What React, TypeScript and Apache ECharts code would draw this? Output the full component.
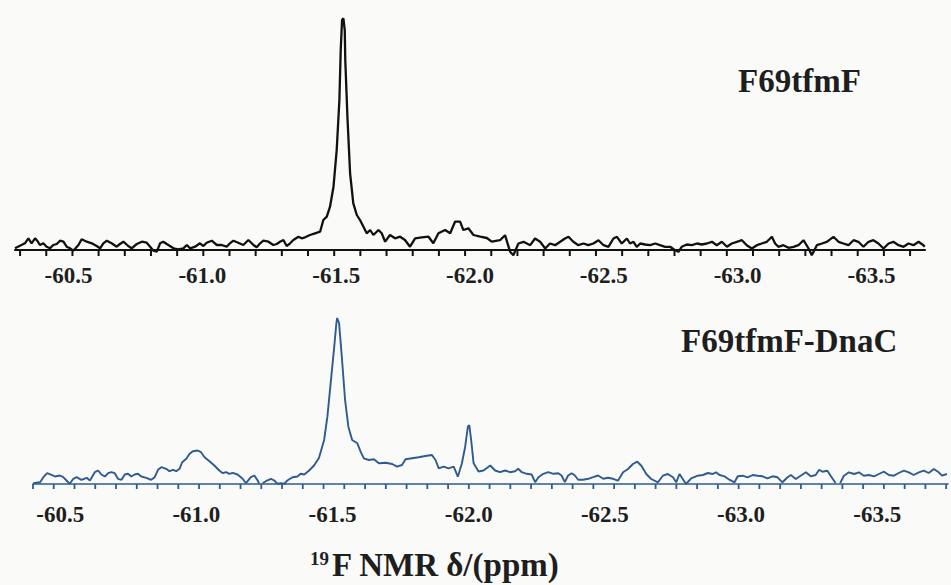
import React, { useEffect, useRef } from "react";
import * as echarts from "echarts";

// Tick labels (ppm) shown under both spectra
const tickLabels = [-60.5, -61.0, -61.5, -62.0, -62.5, -63.0, -63.5];

// Minor tick marks along each baseline (start ppm, spacing ppm, count)
const topTickStart = -60.319;
const topTickStep = 0.0978;
const topTickCount = 35;
const bottomTickStart = -60.4;
const bottomTickStep = 0.07621;
const bottomTickCount = 45;

// Top spectrum: F69tfmF (chemical shift ppm, intensity a.u.)
const ppmTop = [
  -60.300, -60.337, -60.350, -60.362, -60.375, -60.383, -60.393, -60.406, -60.418, -60.431,
  -60.443, -60.456, -60.468, -60.481, -60.493, -60.506, -60.518, -60.537, -60.549, -60.568,
  -60.587, -60.605, -60.618, -60.630, -60.643, -60.661, -60.680, -60.692, -60.705, -60.723,
  -60.736, -60.755, -60.774, -60.792, -60.805, -60.817, -60.830, -60.842, -60.854, -60.867,
  -60.879, -60.892, -60.910, -60.929, -60.942, -60.954, -60.973, -60.991, -61.004, -61.016,
  -61.035, -61.054, -61.072, -61.091, -61.103, -61.116, -61.134, -61.153, -61.172, -61.191,
  -61.203, -61.216, -61.228, -61.247, -61.265, -61.278, -61.290, -61.303, -61.315, -61.328,
  -61.340, -61.359, -61.371, -61.384, -61.402, -61.421, -61.440, -61.452, -61.465, -61.477,
  -61.490, -61.502, -61.512, -61.517, -61.522, -61.527, -61.532, -61.534, -61.542, -61.552,
  -61.564, -61.577, -61.589, -61.602, -61.614, -61.627, -61.639, -61.658, -61.670, -61.683,
  -61.701, -61.720, -61.739, -61.757, -61.776, -61.795, -61.820, -61.845, -61.863, -61.882,
  -61.907, -61.926, -61.944, -61.963, -61.975, -61.994, -62.013, -62.038, -62.063, -62.081,
  -62.112, -62.131, -62.150, -62.162, -62.181, -62.200, -62.225, -62.243, -62.262, -62.281,
  -62.299, -62.318, -62.337, -62.355, -62.368, -62.386, -62.405, -62.424, -62.442, -62.461,
  -62.480, -62.499, -62.517, -62.536, -62.549, -62.567, -62.586, -62.598, -62.611, -62.623,
  -62.636, -62.654, -62.673, -62.692, -62.710, -62.729, -62.748, -62.766, -62.779, -62.791,
  -62.810, -62.829, -62.848, -62.866, -62.885, -62.904, -62.922, -62.941, -62.960, -62.978,
  -62.997, -63.016, -63.034, -63.053, -63.072, -63.090, -63.109, -63.128, -63.140, -63.152,
  -63.171, -63.190, -63.209, -63.227, -63.246, -63.265, -63.277, -63.296, -63.315, -63.333,
  -63.358, -63.377, -63.395, -63.414, -63.433, -63.451, -63.470, -63.489, -63.507, -63.526,
  -63.545, -63.564, -63.582, -63.601, -63.620, -63.638, -63.657, -63.676, -63.694, -63.699,
];
const intTop = [
  1.7, 6.7, 11.7, 6.7, 11.7, 9.3, 5, 6.7, 3.3, 1.7,
  5, 6, 9.3, 8.3, 3.3, 1.7, -0.7, 5, 10.7, 8.3,
  6.7, 4, 1.7, 6.7, 9.3, 6.7, 3.3, 6, 8.3, 4,
  1.7, 6, 8.3, 7.3, 3.3, -0.7, -1.7, 6.7, 8.3, 6,
  4, 1.7, 0.7, 1.7, 5, 1.7, 3.3, 6.7, 4, 7.3,
  9.3, 5, 5, 3.3, 6.7, 9.3, 7.3, 5, 10, 5,
  2.7, 6.7, 9.3, 8.3, 5, 6, 8.3, 10, 4, 6.7,
  10, 13.3, 11.7, 12.7, 15, 16.7, 18.3, 30, 33.3, 43.3,
  63.3, 100, 150, 200, 230, 231.7, 220, 190, 133.3, 76.7,
  46.7, 35, 30, 23.3, 16.7, 20, 15, 20, 16.7, 8.3,
  15, 11.7, 13.3, 10, 3.3, 11.7, 12.7, 13.3, 6.7, 16.7,
  20, 16.7, 28.3, 28.3, 20, 21.7, 15, 13.3, 12, 8.3,
  9.8, 14.8, -1.8, -5.2, 6.5, 8.2, 4.8, 11.5, 8.2, 1.5,
  6.5, 4.8, 8.2, 11.5, 13.2, 8.2, 4.8, 6.5, 4.8, 6.5,
  9.8, 4.8, 3.2, 11.5, 13.2, 6.5, 11.5, 6.5, 8.2, 3.2,
  6.5, 5.5, 4.8, 6.5, 4.8, 3.2, 3.2, -0.2, -1.8, 3.2,
  5.5, 4.8, 6.5, 5.5, 6.5, 8.2, 4.8, 8.2, 3.2, 6.5,
  8.2, 9.8, 4.8, 1.5, 4.8, 6.5, 8.2, 13.2, 6.5, 3.2,
  4.8, 2.2, 3.2, 4.8, 9.8, 1.5, -5.2, 4.8, 6.5, 8.2,
  13.2, 8.2, 6.5, 4.8, 9.8, 8.2, 3.2, 8.2, 9.8, 6.5,
  1.5, 6.5, 8.2, 4.8, 3.2, 6.5, 4.8, 8.2, 4.8, 3.2,
];

// Bottom spectrum: F69tfmF-DnaC (null = gap in the trace)
const ppmBottom = [
  -60.401, -60.426, -60.438, -60.452, -60.468, -60.481, -60.499, -60.511, -60.523, -60.535,
  -60.548, -60.560, -60.578, -60.597, -60.609, -60.627, -60.639, -60.651, -60.664, -60.676,
  -60.688, -60.700, -60.712, -60.725, -60.737, -60.749, -60.761, -60.773, -60.785, -60.798,
  -60.816, -60.834, -60.847, -60.859, -60.871, -60.889, -60.901, -60.914, -60.926, -60.938,
  -60.948, -60.963, -60.975, -60.987, -61.005, -61.017, -61.030, -61.048, -61.066, -61.084,
  -61.097, -61.109, -61.121, -61.133, -61.151, -61.170, -61.182, -61.200, -61.213, -61.225,
  -61.231, -61.236, -61.243, -61.255, -61.274, -61.286, -61.298, -61.310, -61.322, -61.334,
  -61.353, -61.371, -61.383, -61.396, -61.414, -61.432, -61.450, -61.469, -61.481, -61.493,
  -61.505, -61.514, -61.517, -61.524, -61.534, -61.546, -61.558, -61.572, -61.591, -61.603,
  -61.615, -61.633, -61.652, -61.670, -61.695, -61.719, -61.737, -61.755, -61.768, -61.792,
  -61.816, -61.841, -61.865, -61.878, -61.890, -61.908, -61.926, -61.945, -61.960, -61.975,
  -61.987, -61.997, -62.002, -62.009, -62.018, -62.036, -62.054, -62.079, -62.097, -62.115,
  -62.134, -62.152, -62.170, -62.182, -62.195, -62.213, -62.231, -62.244, -62.256, -62.274,
  -62.292, -62.311, -62.329, -62.341, -62.353, -62.365, -62.378, -62.390, -62.402, -62.420,
  -62.439, -62.457, -62.475, -62.494, -62.512, -62.530, -62.548, -62.567, -62.585, -62.603,
  -62.619, -62.634, -62.652, -62.670, -62.695, -62.713, -62.731, -62.750, -62.762, -62.774,
  -62.786, -62.798, -62.817, -62.841, -62.860, -62.878, -62.896, -62.908, -62.921, -62.939,
  -62.957, -62.976, -62.988, -63.006, -63.024, -63.043, -63.061, -63.079, -63.097, -63.116,
  -63.134, -63.152, -63.171, -63.183, -63.201, -63.219, -63.238, -63.256, -63.274, -63.287,
  -63.299, -63.317, -63.329, -63.347, -63.355, -63.364, -63.378, -63.396, -63.415, -63.433,
  -63.451, -63.470, -63.488, -63.506, -63.525, -63.543, -63.561, -63.579, -63.598, -63.616,
  -63.634, -63.653, -63.671, -63.689, -63.708, -63.726, -63.738, -63.756,
];
const intBottom = [
  0.8, 1.8, 6.8, 10.8, 9.2, 7.5, 8.5, 6.8, 3.5, 0.2,
  5.2, 6.8, 4.2, 6.2, 3.5, 11.8, 13.5, 9.5, 7.5, 10.8,
  11.8, 10.8, 5.2, 4.2, 9.5, 10.2, 7.5, 9.5, 10.2, 7.5,
  6.2, 4.2, 6.8, 14.2, 16.8, 15.2, 12.8, 14.2, 12.8, 15.2,
  21.8, 25.2, 30.2, 32.8, 33.5, 31.8, 26.8, 22.8, 18.5, 13.5,
  10.8, 11.8, 10.2, 11.2, 9.5, 5.2, 0.8, 6.8, 8.5, 3.5,
  0.2, null, 0.8, 2.8, 5.2, 3.5, 0.2, 0.8, 0.2, 3.5,
  6.8, 7.5, 10.2, 9.5, 13.5, 18.5, 26, 44, 67.3, 100.7,
  134, 160.7, 166, 160.7, 127.3, 84, 57.3, 44, 40.7, 32.3,
  25.7, 24, 24.7, 20.7, 21.3, 20, 17.3, 19, 24.7, 25.7,
  26.7, 28, 29, 24, 15.7, 17.3, 15.7, 17.3, 7.3, 20.7,
  37.3, 57.3, 59, 44, 20.7, 12.5, 13.5, 18.5, 13.5, 11.8,
  13.5, 11.8, 12.8, 15.2, 11.8, 10.2, 9.5, 1.8, 6.8, 10.2,
  11.8, 10.2, 10.8, 8.5, 1.8, 8.5, 10.8, 8.5, 4.2, 4.2,
  5.2, 6.8, 8.5, 5.2, 6.2, 5.2, 3.3, 11.7, 15, 20,
  22.3, 18.3, 10, 5, 1.7, 8.3, 10, 6.7, 1.7, 10,
  5, 0, 5.7, 8.3, 9, 11, 10, 11.7, 9, 7.7,
  4.3, 1.7, 7.7, 8.3, 6.7, 9, 8.3, 7.7, 5.7, 7.7,
  6.7, 1.7, 6.7, 9, 5, 8.3, 11.7, 7.7, 9, 14.3,
  12.3, 13.3, 8.3, 1, null, 1, 8.3, 11.7, 10, 11.7,
  8.3, 9, 7.7, 10, 12.3, 9, 8.3, 11, 13.3, 11.7,
  9, 11.7, 13.3, 11, 15, 11.7, 8.3, 10,
];

const TOP_COLOR = "#111111";
const BOTTOM_COLOR = "#2f5b8e";
const TEXT_COLOR = "#1e1e1e";
const SERIF = "'Liberation Serif', 'DejaVu Serif', 'Times New Roman', serif";

const isTickLabel = (v: number) => tickLabels.some((t) => Math.abs(t - v) < 1e-6);

const tickValues = (start: number, step: number, count: number) => {
  const out: number[] = [];
  for (let k = 0; k < count; k++) out.push(+(start - k * step).toFixed(4));
  return out;
};

export default function App() {
  const ref = useRef<HTMLDivElement>(null);

  useEffect(() => {
    if (!ref.current) return;
    const chart = echarts.init(ref.current, undefined, { renderer: "svg" });

    const labelStyle = (margin: number) => ({
      margin,
      color: TEXT_COLOR,
      fontFamily: SERIF,
      fontWeight: "bold",
      fontSize: 23,
      formatter: (v: number) => (isTickLabel(v) ? v.toFixed(1) : ""),
    });

    const textStyle = (size: number) => ({
      fontFamily: SERIF,
      fontWeight: "bold",
      fontSize: size,
      fill: TEXT_COLOR,
      verticalAlign: "middle",
    });

    const texts = [
      { type: "text", style: { text: "F69tfmF", x: 738, y: 81, ...textStyle(33) } },
      { type: "text", style: { text: "F69tfmF-DnaC", x: 681, y: 341, ...textStyle(33) } },
      { type: "text", style: { text: "19", x: 310, y: 558, ...textStyle(19) } },
      { type: "text", style: { text: "F NMR δ/(ppm)", x: 332, y: 565, ...textStyle(33) } },
    ];

    const option = {
      animation: false,
      backgroundColor: "#fafaf9",
      textStyle: { fontFamily: SERIF },
      grid: [
        { left: 15, width: 910, top: 10, height: 240 },
        { left: 33, width: 918, top: 244, height: 240 },
      ],
      xAxis: [
        {
          type: "value", gridIndex: 0, min: -63.7, max: -60.3, inverse: true,
          axisLine: { lineStyle: { color: TOP_COLOR, width: 2.2 } },
          axisTick: { show: false },
          splitLine: { show: false },
          axisLabel: labelStyle(14),
        },
        {
          type: "value", gridIndex: 1, min: -63.76, max: -60.4, inverse: true,
          axisLine: { lineStyle: { color: BOTTOM_COLOR, width: 1.6 } },
          axisTick: { show: false },
          splitLine: { show: false },
          axisLabel: labelStyle(19),
        },
      ],
      yAxis: [0, 1].map((g) => ({
        type: "value", gridIndex: g, min: 0, max: 240, show: false,
      })),
      series: [
        {
          type: "line", xAxisIndex: 0, yAxisIndex: 0, clip: false,
          showSymbol: false, symbol: "none",
          lineStyle: { color: TOP_COLOR, width: 2.3 },
          data: ppmTop.map((p, i) => [p, intTop[i]]),
        },
        {
          type: "line", xAxisIndex: 1, yAxisIndex: 1, clip: false,
          showSymbol: false, symbol: "none", connectNulls: false,
          lineStyle: { color: BOTTOM_COLOR, width: 1.9 },
          data: ppmBottom.map((p, i) => [p, intBottom[i] === null ? "-" : intBottom[i]]),
        },
      ],
      graphic: texts,
    };

    chart.setOption(option as any);

    // tick marks placed through the axes' own scales
    const makeTicks = (axisIndex: number, values: number[], color: string, len: number, width: number) => {
      const y0 = chart.convertToPixel({ yAxisIndex: axisIndex } as any, 0) as unknown as number;
      return values.map((v) => {
        const x = chart.convertToPixel({ xAxisIndex: axisIndex } as any, v) as unknown as number;
        return {
          type: "rect",
          z: 10,
          silent: true,
          shape: { x: x - width / 2, y: y0, width, height: len },
          style: { fill: color },
        };
      });
    };
    const ticks = [
      ...makeTicks(0, tickValues(topTickStart, topTickStep, topTickCount), TOP_COLOR, 6, 2),
      ...makeTicks(1, tickValues(bottomTickStart, bottomTickStep, bottomTickCount), BOTTOM_COLOR, 5, 1.8),
    ];
    chart.setOption({ graphic: [...texts, ...ticks] } as any);

    return () => chart.dispose();
  }, []);

  return (
    <div
      ref={ref}
      style={{ position: "fixed", left: 0, top: 0, width: 951, height: 585 }}
    />
  );
}
